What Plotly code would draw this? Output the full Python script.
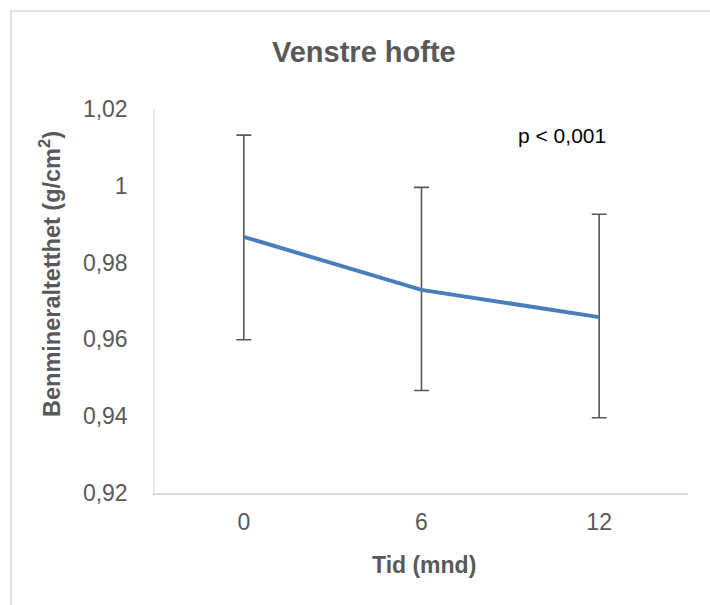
import plotly.graph_objects as go

# Data
months = ["0", "6", "12"]
bmd_mean = [0.9867, 0.9729, 0.9658]
err_plus = [0.0265, 0.0267, 0.0268]
err_minus = [0.0268, 0.0262, 0.0262]
y_tickvals = [0.92, 0.94, 0.96, 0.98, 1.00, 1.02]
y_ticktext = ["0,92", "0,94", "0,96", "0,98", "1", "1,02"]

W, H = 710, 605
ML, MR, MT, MB = 155, 22, 109, 112
PW = W - ML - MR
PH = H - MT - MB

def px_x(p):
    return (p - ML) / PW

def px_y(p):
    return (H - MB - p) / PH

FONT = "Liberation Sans, Arial, sans-serif"
GRAY = "#595959"

fig = go.Figure()
fig.add_trace(go.Scatter(
    x=months, y=bmd_mean, mode="lines",
    line=dict(color="#4a7ebb", width=4),
    error_y=dict(type="data", symmetric=False, array=err_plus, arrayminus=err_minus,
                 color="#595959", thickness=1.6, width=7.5),
    showlegend=False, hoverinfo="skip",
))

fig.update_layout(
    width=W, height=H,
    margin=dict(l=ML, r=MR, t=MT, b=MB),
    paper_bgcolor="white", plot_bgcolor="white",
    font=dict(family=FONT, color=GRAY),
    xaxis=dict(
        type="category", range=[-0.5, 2.5],
        showline=True, linecolor="#d9d9d9", linewidth=1.5,
        showgrid=False, ticks="", zeroline=False,
        tickfont=dict(size=23, color=GRAY),
        ticklabelstandoff=8,
    ),
    yaxis=dict(
        range=[0.92, 1.02], tickvals=y_tickvals, ticktext=y_ticktext,
        showline=True, linecolor="#ebebe6", linewidth=1.5,
        showgrid=False, ticks="", zeroline=False,
        tickfont=dict(size=23, color=GRAY),
        ticklabelstandoff=21,
    ),
    annotations=[
        dict(text="<b>Venstre hofte</b>", xref="paper", yref="paper",
             x=px_x(364), y=px_y(52), xanchor="center", yanchor="middle",
             showarrow=False, font=dict(size=29, color=GRAY, family=FONT)),
        dict(text="<b>Benmineraltetthet (g/cm<sup>2</sup>)</b>", xref="paper", yref="paper",
             x=px_x(50), y=px_y(274), xanchor="center", yanchor="middle", textangle=-90,
             showarrow=False, font=dict(size=23.5, color=GRAY, family=FONT)),
        dict(text="<b>Tid (mnd)</b>", xref="paper", yref="paper",
             x=px_x(424), y=px_y(565), xanchor="center", yanchor="middle",
             showarrow=False, font=dict(size=23, color=GRAY, family=FONT)),
        dict(text="p < 0,001", xref="paper", yref="paper",
             x=px_x(562), y=px_y(135), xanchor="center", yanchor="middle",
             showarrow=False, font=dict(size=21, color="#000000", family=FONT)),
    ],
    shapes=[
        dict(type="rect", xref="paper", yref="paper",
             x0=px_x(11), x1=px_x(730), y0=px_y(630), y1=px_y(11),
             line=dict(color="#d9d9d9", width=1.5), fillcolor="rgba(0,0,0,0)",
             layer="below"),
    ],
)

fig.write_html("out.html", config={"displayModeBar": False},
               post_script="document.body.style.margin='0px';document.body.style.overflow='hidden';")
